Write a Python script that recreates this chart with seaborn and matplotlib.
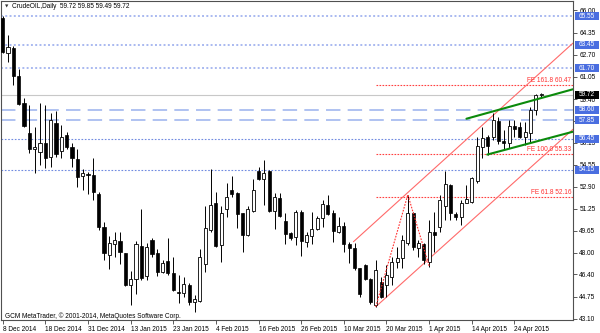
import matplotlib
matplotlib.use("Agg")
import matplotlib.pyplot as plt
import seaborn as sns
import numpy as np
import pandas as pd
from matplotlib.transforms import blended_transform_factory
from matplotlib.patches import Rectangle

# ---------------- data ----------------
opens = [65.40, 62.85, 63.18, 61.12, 59.14, 56.87, 55.68, 55.50, 56.12, 55.13,
         57.61, 55.58, 56.72, 55.88, 54.96, 53.72, 53.87, 53.80, 52.36, 49.94,
         47.84, 48.65, 48.90, 47.96, 45.61, 46.03, 48.50, 46.28, 48.95, 48.00,
         46.60, 47.36, 46.50, 45.11, 45.04, 45.60, 44.32, 44.44, 47.17, 49.69,
         51.72, 48.58, 51.23, 52.66, 52.41, 50.98, 49.32, 51.13, 54.10, 53.48,
         54.10, 51.13, 52.04, 50.38, 49.44, 49.15, 51.05, 48.82, 49.24, 49.74,
         50.56, 51.55, 50.93, 49.57, 49.99, 48.65, 48.33, 46.84, 47.09, 46.03,
         44.12, 45.85, 45.60, 46.23, 47.34, 47.59, 48.70, 50.98, 48.33, 48.65,
         47.34, 49.57, 49.94, 51.47, 53.03, 50.88, 50.63, 51.72, 51.79, 53.35,
         55.88, 56.57, 56.57, 57.81, 56.32, 56.12, 57.41, 57.31, 56.57, 56.92,
         58.60, 59.72]
highs = [65.60, 64.17, 63.35, 61.62, 59.47, 58.97, 57.36, 59.14, 58.97, 58.35,
         58.55, 57.49, 56.99, 56.12, 55.68, 54.20, 53.97, 55.01, 52.54, 50.31,
         49.24, 49.57, 49.57, 48.00, 46.67, 48.90, 51.22, 48.70, 49.07, 48.25,
         47.44, 49.07, 47.66, 46.35, 46.22, 45.73, 44.87, 48.26, 51.47, 54.20,
         52.54, 51.47, 53.16, 53.70, 52.50, 50.98, 51.47, 53.45, 54.39, 54.89,
         54.15, 52.46, 52.46, 50.93, 49.57, 51.17, 51.17, 49.57, 51.05, 50.73,
         51.92, 52.29, 51.17, 50.68, 50.31, 48.82, 48.70, 46.84, 47.20, 46.10,
         47.46, 46.23, 47.09, 47.71, 48.45, 49.32, 52.29, 51.05, 48.95, 48.70,
         50.43, 51.05, 52.29, 54.10, 53.10, 51.05, 51.92, 53.03, 53.65, 56.60,
         57.36, 56.74, 58.35, 58.10, 57.11, 57.86, 57.86, 57.73, 57.73, 58.85,
         59.79, 59.85]
lows = [62.80, 62.19, 60.45, 58.97, 57.31, 55.38, 53.90, 54.52, 54.27, 54.39,
        55.13, 55.01, 55.68, 54.39, 52.86, 52.66, 52.36, 51.92, 49.69, 47.46,
        46.77, 47.66, 47.16, 45.53, 44.12, 44.94, 45.98, 45.98, 47.71, 46.28,
        46.47, 46.35, 45.18, 44.25, 44.69, 44.12, 43.60, 44.37, 46.60, 49.57,
        48.40, 47.34, 50.68, 52.16, 49.81, 48.08, 49.24, 51.05, 53.40, 51.55,
        51.05, 49.74, 50.68, 48.65, 48.95, 48.58, 47.76, 48.40, 48.65, 49.69,
        49.89, 50.80, 48.82, 49.50, 48.08, 47.22, 46.72, 44.74, 46.00, 44.20,
        43.99, 44.62, 44.74, 45.60, 46.84, 46.84, 48.58, 48.20, 47.71, 47.17,
        46.97, 48.08, 49.57, 50.43, 50.43, 50.43, 50.06, 51.67, 51.67, 53.20,
        55.01, 55.26, 56.37, 56.08, 55.68, 55.75, 56.62, 56.50, 56.00, 56.12,
        58.23, 59.49]
closes = [62.93, 63.25, 61.12, 59.02, 57.41, 55.68, 55.88, 56.12, 55.01, 57.86,
          55.33, 56.62, 55.83, 55.01, 53.65, 53.92, 53.80, 52.54, 49.89, 47.96,
          48.70, 48.95, 48.08, 45.61, 46.03, 48.62, 46.10, 48.40, 47.91, 46.60,
          47.24, 46.47, 45.23, 45.04, 45.68, 44.37, 44.54, 47.66, 49.81, 51.55,
          48.50, 50.93, 52.12, 52.34, 50.88, 49.32, 51.23, 52.66, 53.45, 53.95,
          51.13, 52.12, 50.73, 49.39, 49.07, 51.05, 48.90, 49.32, 49.74, 50.56,
          51.62, 50.88, 49.64, 49.99, 48.65, 48.33, 46.84, 44.94, 46.03, 44.37,
          46.72, 44.74, 46.35, 47.34, 47.59, 48.95, 50.98, 48.45, 48.70, 47.46,
          49.57, 49.32, 51.92, 53.10, 50.98, 50.63, 51.67, 51.97, 53.53, 55.93,
          56.50, 55.93, 57.86, 56.32, 56.12, 57.41, 57.16, 56.62, 56.99, 58.60,
          59.71, 59.72]

date_tick_bars = [1, 9, 17, 25, 33, 41, 49, 57, 65, 73, 81, 89, 97]
date_labels = ["8 Dec 2014", "18 Dec 2014", "31 Dec 2014", "13 Jan 2015",
               "23 Jan 2015", "4 Feb 2015", "16 Feb 2015", "26 Feb 2015",
               "10 Mar 2015", "20 Mar 2015", "1 Apr 2015", "14 Apr 2015",
               "24 Apr 2015"]
price_ticks = [66.00, 64.35, 62.70, 61.05, 59.40, 57.75, 56.15, 54.55, 52.90,
               51.25, 49.65, 48.00, 46.40, 44.75, 43.10]
price_tick_labels = ["66.00", "64.35", "62.70", "61.05", "59.40", "", "56.15",
                     "54.55", "52.90", "51.25", "49.65", "48.00", "46.40",
                     "44.75", "43.10"]

levels_light_dotted = [65.55, 63.45, 61.70]
levels_dashed = [58.60, 57.85]
levels_dark_dotted = [56.45, 54.15]
last_price = 59.72

fe_levels = [60.47, 55.33, 52.16]
fe_labels = ["FE 161.8 60.47", "FE 100.0 55.33", "FE 61.8 52.16"]
fe_start_bar = 71

zigzag_bars = [71, 77, 81]
zigzag_prices = [44.00, 52.31, 47.02]
chan_low_bars = [71, 108]
chan_low_prices = [44.00, 57.17]
chan_up_bars = [66.8, 108]
chan_up_prices = [48.82, 63.57]
green_up_bars = [88.0, 108]
green_up_prices = [57.95, 60.14]
green_low_bars = [91.9, 108]
green_low_prices = [55.29, 56.99]

title_text = "CrudeOIL,Daily  59.72 59.85 59.49 59.72"
copyright_text = "GCM MetaTrader, \u00a9 2001-2014, MetaQuotes Software Corp."

# ---------------- style ----------------
sns.set_theme(style="white")
plt.rcParams['font.family'] = ['Liberation Sans', 'DejaVu Sans']
FS = 4.7

fig = plt.figure(figsize=(6.0, 3.33), dpi=100)
ax = fig.add_axes([1 / 600, 13 / 333, 572 / 600, 319 / 333])
ax.set_facecolor("white")

df = pd.DataFrame({"bar": np.arange(1, len(opens) + 1), "open": opens,
                   "high": highs, "low": lows, "close": closes})

# horizontal levels
for lv in levels_light_dotted:
    ax.axhline(lv, color="#a9b9f0", lw=1.4, linestyle=(0, (1, 1.2)), zorder=1)
for lv in levels_dashed:
    ax.axhline(lv, color="#a9bdf0", lw=1.3, linestyle=(0, (8, 4)), zorder=1)
for lv in levels_dark_dotted:
    ax.axhline(lv, color="#6f8ae0", lw=0.8, linestyle=(0, (1.5, 1.5)), zorder=1)
ax.axhline(last_price, color="#c8c8c8", lw=0.8, zorder=1)

# FE levels
for lv, lab in zip(fe_levels, fe_labels):
    ax.plot([fe_start_bar, 108], [lv, lv], color="#ff4040", lw=0.8,
            linestyle=(0, (1.5, 1.2)), zorder=1)
    ax.text(107.7, lv + 0.06, lab, color="#ff3030", fontsize=FS,
            ha="right", va="bottom", zorder=4)

# channel + zigzag
sns.lineplot(x=chan_low_bars, y=chan_low_prices, ax=ax, color="#ff6a6a",
             lw=0.8, sort=False, zorder=2)
sns.lineplot(x=chan_up_bars, y=chan_up_prices, ax=ax, color="#ff6a6a",
             lw=0.8, sort=False, zorder=2)
sns.lineplot(x=zigzag_bars, y=zigzag_prices, ax=ax, color="#ff3030",
             lw=0.8, sort=False, linestyle=(0, (1.5, 1.2)), zorder=6)

# candles
body_lo = df[["open", "close"]].min(axis=1)
body_h = (df["close"] - df["open"]).abs().clip(lower=0.04)
bull = df["close"] >= df["open"]
ax.vlines(df["bar"], df["low"], df["high"], color="black", lw=0.7, zorder=3)
ax.bar(df["bar"][~bull], body_h[~bull], bottom=body_lo[~bull], width=0.58,
       color="black", edgecolor="black", lw=0.5, zorder=4)
ax.bar(df["bar"][bull], body_h[bull], bottom=body_lo[bull], width=0.58,
       color="white", edgecolor="black", lw=0.6, zorder=4)

# green lines
sns.lineplot(x=green_up_bars, y=green_up_prices, ax=ax, color="#0b8a0b",
             lw=1.5, sort=False, zorder=5)
sns.lineplot(x=green_low_bars, y=green_low_prices, ax=ax, color="#0b8a0b",
             lw=1.5, sort=False, zorder=5)

# axes
ax.set_xlim(0.68, 107.99)
ax.set_ylim(43.01, 66.69)
ax.set_xlabel("")
ax.set_ylabel("")
ax.set_xticks(date_tick_bars)
ax.set_xticklabels(date_labels, ha="left", fontsize=FS)
ax.yaxis.tick_right()
ax.set_yticks(price_ticks)
ax.set_yticklabels(price_tick_labels, fontsize=FS)
ax.tick_params(axis="x", direction="out", length=3, width=0.6, pad=1.5,
               colors="#404040", labelcolor="black", bottom=True)
ax.tick_params(axis="y", direction="out", length=3, width=0.6, pad=1.5,
               colors="#404040", labelcolor="black", right=True, left=False)
for s in ax.spines.values():
    s.set_visible(True)
    s.set_color("#505050")
    s.set_linewidth(0.8)

# right price boxes
tr = blended_transform_factory(ax.transAxes, ax.transData)
box_x0 = 1.0035
box_w = 24 / 572
box_h = 0.60


def price_box(lv, fc):
    ax.add_patch(Rectangle((box_x0, lv - box_h / 2), box_w, box_h,
                           transform=tr, facecolor=fc, edgecolor="none",
                           clip_on=False, zorder=9))
    ax.text(box_x0 + box_w / 2, lv, f"{lv:.2f}", transform=tr, fontsize=FS,
            color="white", ha="center", va="center", clip_on=False, zorder=10)


for lv in levels_light_dotted + levels_dashed + levels_dark_dotted:
    price_box(lv, "#4a6ee0")
price_box(last_price, "black")

# texts
fig.text(5 / 600, 1 - 6 / 333, "\u25bc", fontsize=3.2, color="#303030",
         ha="left", va="center", family="DejaVu Sans")
fig.text(12 / 600, 1 - 6 / 333, title_text, fontsize=FS, color="black",
         ha="left", va="center")
fig.text(5 / 600, 1 - 316 / 333, copyright_text, fontsize=FS, color="black",
         ha="left", va="center")

fig.savefig("out.png", dpi=100)
